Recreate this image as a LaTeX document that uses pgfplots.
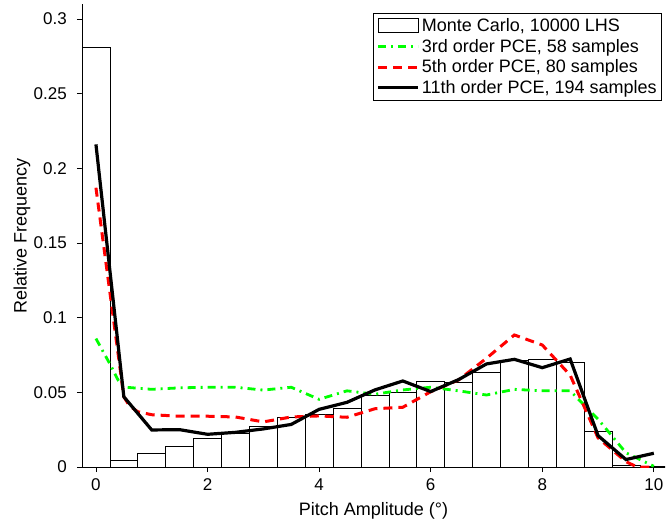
\documentclass[border=0pt]{standalone}
\usepackage{fontspec}
\setmainfont{Liberation Sans}
\usepackage{pgfplots}
\pgfplotsset{compat=1.18}
\usepackage{pgfplotstable}

\pgfplotsset{
  lineleg/.style={legend image code/.code={\draw[##1] (0pt,0pt) -- (40pt,0pt);}},
  boxleg/.style={legend image code/.code={\draw[black, line width=0.6pt, fill=white] (0pt,-7pt) rectangle (40pt,7pt);}},
}

\pgfplotstableread{
x y
0 0.281
0.5 0.0045
1 0.0089
1.5 0.0139
2 0.0194
2.5 0.0225
3 0.027
3.5 0.0333
4 0.0355
4.5 0.0393
5 0.0478
5.5 0.050
6 0.0574
6.5 0.057
7 0.0634
7.5 0.0715
8 0.0721
8.5 0.070
9 0.0239
9.5 0.001
10 0.0002
}\mcdata

\pgfplotstableread{
x y
0 0.086
0.25 0.069
0.4 0.058
0.5 0.0535
1 0.052
1.5 0.053
2 0.0534
2.5 0.0534
3 0.0515
3.5 0.0534
4 0.0453
4.5 0.051
5 0.0487
5.5 0.0516
6 0.0534
6.5 0.051
7 0.0482
7.5 0.052
8 0.051
8.5 0.051
9 0.032
9.5 0.0095
10 0.0005
}\pcethree

\pgfplotstableread{
x y
0 0.187
0.5 0.047
0.6 0.041
0.75 0.037
1 0.035
1.5 0.034
2 0.034
2.5 0.0335
3 0.0302
3.5 0.0335
4 0.0342
4.5 0.0333
5 0.039
5.5 0.040
6 0.0504
6.5 0.0583
7 0.0728
7.5 0.0884
8 0.0817
8.5 0.0615
9 0.0195
9.5 0.0036
9.7 0.0
10 0.0
}\pcefive

\pgfplotstableread{
x y
0 0.216
0.5 0.047
1 0.0248
1.5 0.025
2 0.0219
2.5 0.0232
3 0.0255
3.5 0.0285
4 0.0386
4.5 0.0433
5 0.0516
5.5 0.0576
6 0.0505
6.5 0.0585
7 0.069
7.5 0.0721
8 0.0665
8.5 0.0723
9 0.021
9.5 0.005
10 0.0092
}\pceeleven

\begin{document}
\begin{tikzpicture}
\useasboundingbox (-82pt,-58pt) rectangle (584pt,467pt);
\begin{axis}[
  at={(0pt,0pt)}, anchor=south west,
  scale only axis,
  width=583pt, height=463pt,
  xmin=-0.25, xmax=10.2,
  ymin=0, ymax=0.31,
  axis x line=bottom, axis y line=left,
  axis line style={-, black, line width=0.8pt},
  tick align=outside,
  major tick length=5pt,
  tick style={black, line width=0.8pt},
  xtick={0,2,4,6,8,10},
  xticklabels={0,2,4,6,8,10},
  ytick={0,0.05,0.1,0.15,0.2,0.25,0.3},
  yticklabels={0,0.05,0.1,0.15,0.2,0.25,0.3},
  minor tick num=0,
  ticklabel style={font=\fontsize{17}{20}\selectfont},
  xticklabel style={anchor=base, yshift=-18pt},
  yticklabel style={anchor=east, inner sep=0pt, xshift=-10pt},
  xlabel={Pitch Amplitude (°)},
  ylabel={Relative Frequency},
  label style={font=\fontsize{18}{21}\selectfont},
  xlabel style={at={(axis description cs:0.5,0)}, anchor=base, yshift=-48pt},
  ylabel style={at={(axis description cs:-0.1029,0.5)}, anchor=center},
  legend style={
    at={(rel axis cs:0.9949,0.9806)}, anchor=north east,
    draw=black, line width=0.8pt, fill=white,
    font=\fontsize{18}{21}\selectfont,
    inner xsep=3pt, inner ysep=3pt,
    row sep=2.2pt,
    nodes={inner sep=2pt},
    cells={anchor=west},
  },
  legend cell align=left,
]
\addplot[ybar, bar width=0.5, fill=white, draw=black, line width=0.6pt, boxleg]
  table[x=x, y=y] {\mcdata};
\addlegendentry{Monte Carlo, 10000 LHS}
\addplot[green, line width=2.8pt, dash pattern=on 8pt off 5pt on 2pt off 5pt, lineleg]
  table[x=x, y=y] {\pcethree};
\addlegendentry{3rd order PCE, 58 samples}
\addplot[red, line width=3pt, dash pattern=on 9pt off 6pt, lineleg]
  table[x=x, y=y] {\pcefive};
\addlegendentry{5th order PCE, 80 samples}
\addplot[black, line width=3.2pt, lineleg]
  table[x=x, y=y] {\pceeleven};
\addlegendentry{11th order PCE, 194 samples}
\end{axis}
\end{tikzpicture}
\end{document}
